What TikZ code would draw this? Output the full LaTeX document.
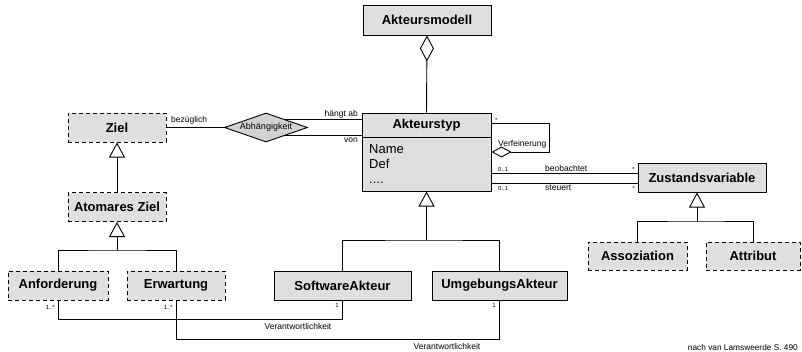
\documentclass[tikz,border=0pt]{standalone}
\usepackage{fontspec}
\setmainfont{Liberation Sans}
\usetikzlibrary{arrows.meta,shapes.geometric,backgrounds}

\tikzset{
  boxfont/.style={font=\fontsize{13}{15}\selectfont\bfseries},
  solidbox/.style={draw, line width=1pt, fill=gray!25, inner sep=0pt, boxfont},
  dashbox/.style={solidbox, dash pattern=on 4pt off 3pt},
  conn/.style={line width=0.9pt},
  gen/.style={conn, -{Triangle[open,length=15pt,width=16pt,line width=0.9pt]}},
  agg/.style={conn, {Diamond[open,length=26pt,width=14pt,line width=0.9pt]}-},
  aggsmall/.style={conn, {Diamond[open,length=20pt,width=11pt,line width=0.9pt]}-},
  lbl/.style={font=\fontsize{8.5}{10}\selectfont, inner sep=0pt},
  mult/.style={font=\fontsize{6}{7}\selectfont, inner sep=0pt},
  attr/.style={font=\fontsize{13}{15}\selectfont, inner sep=0pt, anchor=base west},
}

\begin{document}
\begin{tikzpicture}[x=1pt, y=-1pt]
\useasboundingbox (0,0) rectangle (802,351);

% classes
\node[solidbox, minimum width=128pt, minimum height=30pt] (modell) at (427,20) {Akteursmodell};
\node[solidbox, minimum width=129pt, minimum height=78pt] (akt) at (426.5,152) {};
\node[boxfont, inner sep=0pt] (akttitle) at (426.5,125) {Akteurstyp};
\draw[line width=1pt] (akt.west |- 0,137) -- (akt.east |- 0,137);
\node[attr] (aname) at (369,153) {Name};
\node[attr] (adef) at (369,168) {Def};
\node[attr] (adots) at (369,183) {....};

\node[dashbox, minimum width=98pt, minimum height=29pt] (ziel) at (117,127.5) {Ziel};
\node[dashbox, minimum width=98pt, minimum height=29pt] (atomz) at (117,207) {Atomares Ziel};
\node[dashbox, minimum width=100pt, minimum height=29pt] (anf) at (58,285.5) {Anforderung};
\node[dashbox, minimum width=98pt, minimum height=29pt] (erw) at (176,285.5) {Erwartung};
\node[solidbox, minimum width=137pt, minimum height=29pt] (sw) at (342.5,285.5) {SoftwareAkteur};
\node[solidbox, minimum width=135pt, minimum height=29pt] (umg) at (499.5,285.5) {UmgebungsAkteur};
\node[solidbox, minimum width=128pt, minimum height=29pt] (zust) at (702,177.5) {Zustandsvariable};
\node[dashbox, minimum width=99pt, minimum height=28pt] (asso) at (637.5,256) {Assoziation};
\node[dashbox, minimum width=94pt, minimum height=28pt] (attrb) at (753,256) {Attribut};

% relationship diamond
\node[draw, shape=diamond, aspect=2.86, line width=0.9pt, fill=gray!35, inner sep=0pt,
      minimum width=83pt, minimum height=29pt, font=\fontsize{9}{10}\selectfont]
      (abh) at (266,127.5) {Abhängigkeit};

% aggregation
\draw[agg] (modell.south) -- (akt.north);

% Abhaengigkeit
\draw[conn] (ziel.east) -- (abh.west);
\begin{scope}[on background layer]
  \draw[conn] ([yshift=8.5pt]abh.center) -- ([yshift=8.5pt]abh.center -| akt.west);
  \draw[conn] ([yshift=-7.5pt]abh.center) -- ([yshift=-7.5pt]abh.center -| akt.west);
\end{scope}
\node[lbl, anchor=base west] (lbez) at (171,122) {bezüglich};
\node[lbl, anchor=base east] (lhab) at (358,116) {hängt ab};
\node[lbl, anchor=base east] (lvon) at (358,142) {von};

% Verfeinerung
\draw[aggsmall] (akt.east) -- ++(58,0) |- ([yshift=29pt]akt.east);
\node[lbl, anchor=base west] (lverf) at (498,146) {Verfeinerung};
\node[mult, anchor=base west] (mverf) at (495,122) {*};

% beobachtet / steuert
\draw[conn] ([yshift=4.5pt]zust.west -| akt.east) -- ([yshift=4.5pt]zust.west);
\draw[conn] ([yshift=-5.5pt]zust.west -| akt.east) -- ([yshift=-5.5pt]zust.west);
\node[mult, anchor=base west] (mb1) at (498,171) {0..1};
\node[lbl, anchor=base west] (lbeo) at (545,171) {beobachtet};
\node[mult, anchor=base east] (mb2) at (635,171) {*};
\node[mult, anchor=base west] (ms1) at (498,190) {0..1};
\node[lbl, anchor=base west] (lsteu) at (545,190) {steuert};
\node[mult, anchor=base east] (ms2) at (635,190) {*};

% generalisations
\draw[gen] (atomz.north) -- (ziel.south);
\coordinate (g1) at (117,250);
\draw[conn] (anf.north) |- (g1) -| (erw.north);
\draw[gen] (g1) -- (atomz.south);

\coordinate (g2) at (akt.south |- 0,240);
\draw[conn] (sw.north) |- (g2) -| (umg.north);
\draw[gen] (g2) -- (akt.south);

\coordinate (g3) at (697,221);
\draw[conn] (asso.north) |- (g3) -| (attrb.north);
\draw[gen] (g3) -- (g3 |- zust.south);

% Verantwortlichkeit
\draw[conn] (anf.south) -- (anf.south |- 0,319) -| (sw.south);
\draw[conn] (erw.south) -- (erw.south |- 0,339) -| (umg.south);
\node[lbl] (lver1) at (298,326) {Verantwortlichkeit};
\node[lbl] (lver2) at (447,346) {Verantwortlichkeit};
\node[mult, anchor=base east] (ma1) at (55,309) {1..*};
\node[mult, anchor=base east] (ma2) at (173,309) {1..*};
\node[mult, anchor=base east] (ma3) at (339,307) {1};
\node[mult, anchor=base east] (ma4) at (496,307) {1};

% source
\node[font=\fontsize{8.3}{10}\selectfont, inner sep=0pt, anchor=base east] (src) at (798,350) {nach van Lamsweerde S. 490};
\end{tikzpicture}
\end{document}
